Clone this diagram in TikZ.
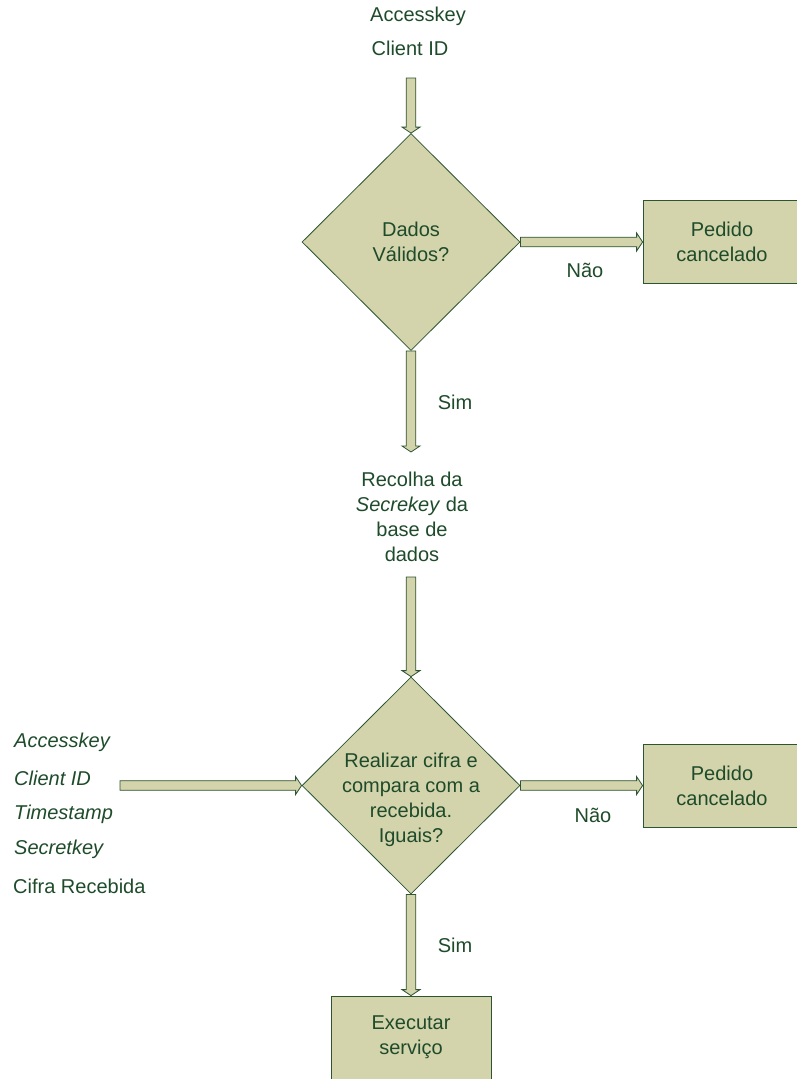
\documentclass[tikz,border=0pt]{standalone}
\usepackage{fontspec}
\setmainfont{Liberation Sans}
\usetikzlibrary{shapes.geometric,calc}
\definecolor{tanfill}{RGB}{211,211,172}
\definecolor{edgegreen}{RGB}{45,85,50}
\definecolor{textgreen}{RGB}{30,75,42}
\tikzset{
  lbl/.style={text=textgreen, font=\fontsize{20}{25}\selectfont, inner sep=0pt, align=center},
  decision/.style={diamond, draw=edgegreen, fill=tanfill, line width=0.8pt, minimum width=218pt, minimum height=217pt, inner sep=0pt},
  procbox/.style={rectangle, draw=edgegreen, fill=tanfill, line width=0.8pt, minimum width=158pt, minimum height=83pt, inner sep=0pt, text=textgreen, font=\fontsize{20}{25}\selectfont, align=center},
  blockarrow/.style={draw=edgegreen, fill=tanfill, line width=0.8pt, line join=miter,
    to path={let \p1=(\tikztostart), \p2=(\tikztotarget),
      \n1={atan2(\y2-\y1,\x2-\x1)}, \n2={veclen(\x2-\x1,\y2-\y1)} in
      {[shift={(\p1)}, rotate=\n1]
       (0,-4.8pt) -- (\n2-6pt,-4.8pt) -- (\n2-6pt,-9pt) -- (\n2,0pt) -- (\n2-6pt,9pt) -- (\n2-6pt,4.8pt) -- (0,4.8pt) -- cycle}}}
}
\begin{document}
\begin{tikzpicture}[x=1pt,y=-1pt]
\useasboundingbox (0,0) rectangle (797,1079);
% top inputs
\node[lbl] (t1) at (418,16) {Accesskey};
\node[lbl] (t2) at (410,48) {Client ID};
% decision 1
\node[decision, label={[lbl]center:{Dados\\Válidos?}}] (d1) at (411,242) {};
\node[procbox] (b1) at (722,242) {Pedido\\cancelado};
\node[lbl] (nao1) at (585,270) {Não};
\node[lbl] (sim1) at (455,402) {Sim};
% recolha
\node[lbl] (rec) at (412,517) {Recolha da\\\textit{Secrekey} da\\base de\\dados};
% decision 2
\node[decision, label={[lbl, yshift=-14pt]center:{Realizar cifra e\\compara com a\\recebida.\\Iguais?}}] (d2) at (411,785.5) {};
\node[procbox] (b2) at (722,785.5) {Pedido\\cancelado};
\node[lbl] (nao2) at (593,815) {Não};
\node[lbl] (sim2) at (455,945) {Sim};
\node[procbox, minimum width=160pt] (b3) at (411,1037.5) {Executar\\serviço};
% left inputs
\node[lbl, anchor=west] (l1) at (14,742) {\textit{Accesskey}};
\node[lbl, anchor=west] (l2) at (14,778) {\textit{Client ID}};
\node[lbl, anchor=west] (l3) at (14,814) {\textit{Timestamp}};
\node[lbl, anchor=west] (l4) at (14,849) {\textit{Secretkey}};
\node[lbl, anchor=west] (l5) at (13,886) {Cifra Recebida};
% connector free ends
\coordinate (a1s) at (411,78);
\coordinate (a3e) at (411,452);
\coordinate (a4s) at (411,577);
\coordinate (a5s) at (120,785.5);
% connectors
\path[blockarrow] (a1s) to (d1.north);
\path[blockarrow] (d1.east) to (b1.west);
\path[blockarrow] (d1.south) to (a3e);
\path[blockarrow] (a4s) to (d2.north);
\path[blockarrow] (a5s) to (d2.west);
\path[blockarrow] (d2.east) to (b2.west);
\path[blockarrow] (d2.south) to (b3.north);
\end{tikzpicture}
\end{document}
